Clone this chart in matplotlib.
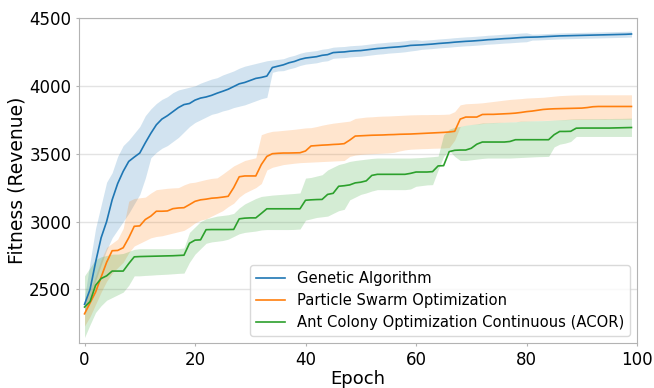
import numpy as np
import matplotlib
matplotlib.use("Agg")
import matplotlib.pyplot as plt

epochs = np.arange(100)

# Genetic Algorithm: mean curve and band edges
ga_mean = [2390, 2500, 2700, 2880, 3000, 3160, 3280, 3370, 3443, 3475,
           3505, 3580, 3650, 3713, 3755, 3780, 3810, 3840, 3862, 3870,
           3895, 3910, 3918, 3930, 3946, 3960, 3975, 3995, 4015, 4025,
           4040, 4055, 4062, 4072, 4135, 4145, 4155, 4170, 4180, 4195,
           4205, 4210, 4215, 4225, 4230, 4245, 4248, 4250, 4255, 4258,
           4260, 4265, 4270, 4275, 4278, 4282, 4285, 4288, 4292, 4298,
           4300, 4302, 4305, 4308, 4312, 4315, 4318, 4322, 4325, 4328,
           4330, 4333, 4336, 4340, 4342, 4345, 4348, 4350, 4353, 4356,
           4358, 4359, 4360, 4362, 4364, 4366, 4368, 4369, 4370, 4371,
           4372, 4373, 4374, 4375, 4376, 4377, 4378, 4379, 4380, 4382]
ga_lo = [2330, 2420, 2560, 2680, 2790, 2880, 2940, 3000, 3060, 3130,
         3200, 3320, 3470, 3510, 3540, 3560, 3590, 3620, 3660, 3700,
         3730, 3750, 3770, 3790, 3800, 3815, 3825, 3840, 3850, 3860,
         3875, 3890, 3905, 3915, 4100, 4110, 4112, 4125, 4135, 4150,
         4160, 4165, 4170, 4180, 4185, 4203, 4206, 4208, 4213, 4216,
         4218, 4223, 4228, 4233, 4236, 4241, 4244, 4247, 4251, 4257,
         4262, 4269, 4272, 4275, 4279, 4282, 4285, 4289, 4292, 4295,
         4297, 4300, 4303, 4307, 4309, 4312, 4315, 4317, 4320, 4323,
         4325, 4337, 4338, 4340, 4342, 4344, 4346, 4347, 4348, 4349,
         4350, 4351, 4352, 4353, 4354, 4355, 4356, 4357, 4358, 4360]
ga_hi = [2440, 2700, 2950, 3120, 3290, 3360, 3480, 3560, 3600, 3650,
         3700, 3780, 3830, 3870, 3900, 3920, 3950, 3970, 3980, 3990,
         4000, 4020, 4035, 4050, 4060, 4080, 4095, 4110, 4130, 4145,
         4155, 4165, 4175, 4185, 4190, 4195, 4200, 4215, 4225, 4240,
         4250, 4255, 4260, 4270, 4275, 4285, 4288, 4290, 4295, 4298,
         4300, 4305, 4310, 4315, 4318, 4322, 4325, 4328, 4332, 4338,
         4340, 4335, 4338, 4341, 4345, 4348, 4351, 4355, 4358, 4361,
         4363, 4366, 4369, 4373, 4375, 4378, 4381, 4383, 4386, 4389,
         4391, 4381, 4382, 4384, 4386, 4388, 4390, 4391, 4392, 4393,
         4394, 4395, 4396, 4397, 4398, 4399, 4400, 4401, 4402, 4404]

# Particle Swarm Optimization
pso_mean = [2320, 2400, 2480, 2590, 2700, 2785, 2787, 2807, 2880, 2965,
            2968, 3015, 3040, 3076, 3076, 3078, 3095, 3100, 3102, 3125,
            3149, 3160, 3165, 3172, 3175, 3180, 3186, 3250, 3330, 3336,
            3336, 3336, 3420, 3480, 3500, 3503, 3505, 3505, 3506, 3507,
            3520, 3557, 3560, 3563, 3565, 3568, 3570, 3574, 3600, 3630,
            3632, 3634, 3636, 3637, 3638, 3640, 3641, 3643, 3644, 3645,
            3647, 3649, 3651, 3653, 3655, 3657, 3660, 3665, 3755, 3770,
            3770, 3770, 3789, 3790, 3790, 3792, 3794, 3796, 3799, 3804,
            3810, 3814, 3820, 3826, 3829, 3831, 3832, 3833, 3834, 3835,
            3836, 3840, 3846, 3848, 3848, 3848, 3848, 3848, 3848, 3848]
pso_lo = [2230, 2300, 2390, 2480, 2560, 2620, 2660, 2700, 2770, 2820,
          2840, 2860, 2880, 2890, 2895, 2905, 2915, 2925, 2935, 2960,
          2990, 3010, 3020, 3040, 3060, 3080, 3110, 3135, 3180, 3210,
          3230, 3250, 3280, 3380, 3400, 3410, 3420, 3425, 3430, 3434,
          3436, 3438, 3440, 3442, 3444, 3446, 3448, 3450, 3480, 3490,
          3495, 3498, 3500, 3502, 3504, 3506, 3510, 3520, 3528, 3533,
          3535, 3537, 3538, 3540, 3541, 3542, 3545, 3600, 3700, 3710,
          3715, 3718, 3722, 3726, 3728, 3730, 3732, 3734, 3736, 3738,
          3740, 3742, 3744, 3745, 3746, 3748, 3749, 3750, 3752, 3752,
          3753, 3753, 3754, 3754, 3754, 3755, 3755, 3755, 3755, 3755]
pso_hi = [2400, 2500, 2600, 2720, 2810, 2840, 2870, 2950, 3150, 3170,
          3175, 3180, 3210, 3235, 3240, 3245, 3248, 3250, 3270, 3285,
          3290, 3300, 3310, 3318, 3322, 3350, 3380, 3410, 3430, 3450,
          3460, 3470, 3640, 3655, 3665, 3668, 3672, 3676, 3680, 3685,
          3690, 3692, 3700, 3710, 3718, 3725, 3730, 3735, 3740, 3760,
          3765, 3770, 3772, 3775, 3777, 3778, 3780, 3782, 3784, 3786,
          3787, 3788, 3788, 3789, 3789, 3790, 3792, 3810, 3860, 3868,
          3870, 3872, 3875, 3880, 3885, 3890, 3895, 3900, 3903, 3906,
          3910, 3912, 3914, 3916, 3920, 3924, 3928, 3930, 3932, 3933,
          3934, 3934, 3934, 3934, 3934, 3934, 3934, 3934, 3934, 3934]

# Ant Colony Optimization Continuous (ACOR)
acor_mean = [2370, 2410, 2530, 2580, 2600, 2635, 2635, 2635, 2690, 2740,
             2742, 2743, 2744, 2745, 2746, 2747, 2748, 2750, 2752, 2840,
             2863, 2865, 2940, 2941, 2941, 2941, 2941, 2942, 3020, 3025,
             3027, 3027, 3060, 3094, 3094, 3094, 3094, 3094, 3094, 3094,
             3157, 3160, 3162, 3163, 3200, 3208, 3260, 3264, 3270, 3285,
             3290, 3300, 3340, 3348, 3348, 3348, 3348, 3348, 3348, 3355,
             3365, 3365, 3365, 3368, 3410, 3412, 3515, 3525, 3527, 3527,
             3540, 3570, 3586, 3586, 3586, 3586, 3586, 3590, 3603, 3603,
             3603, 3603, 3603, 3603, 3603, 3640, 3664, 3664, 3665, 3688,
             3689, 3689, 3689, 3689, 3689, 3689, 3690, 3691, 3692, 3693]
acor_lo = [2145, 2240, 2330, 2380, 2420, 2440, 2460, 2480, 2530, 2600,
           2600, 2603, 2605, 2608, 2610, 2612, 2615, 2618, 2620, 2700,
           2760, 2800, 2840, 2850, 2855, 2860, 2870, 2890, 2910, 2920,
           2925, 2930, 2938, 2941, 2941, 2941, 2941, 2941, 2942, 2945,
           3010, 3020, 3030, 3035, 3040, 3060, 3080, 3090, 3160, 3180,
           3200, 3211, 3225, 3235, 3235, 3235, 3235, 3235, 3235, 3240,
           3260, 3265, 3270, 3272, 3380, 3480, 3525, 3480, 3450, 3450,
           3455, 3460, 3465, 3468, 3468, 3468, 3468, 3468, 3470, 3472,
           3474, 3476, 3478, 3479, 3480, 3550, 3570, 3578, 3590, 3627,
           3627, 3627, 3627, 3627, 3627, 3627, 3627, 3627, 3627, 3627]
acor_hi = [2600, 2660, 2720, 2740, 2750, 2760, 2760, 2765, 2780, 2795,
           2800, 2800, 2800, 2800, 2800, 2800, 2800, 2800, 2805, 2920,
           2960, 3000, 3020, 3030, 3040, 3045, 3050, 3060, 3100, 3130,
           3150, 3170, 3185, 3190, 3195, 3198, 3201, 3204, 3207, 3211,
           3320, 3325, 3335, 3345, 3380, 3400, 3420, 3430, 3443, 3450,
           3455, 3460, 3465, 3468, 3468, 3468, 3468, 3468, 3468, 3468,
           3470, 3472, 3475, 3478, 3482, 3640, 3680, 3695, 3701, 3710,
           3715, 3720, 3726, 3728, 3730, 3731, 3732, 3734, 3735, 3740,
           3741, 3742, 3743, 3744, 3745, 3748, 3750, 3752, 3755, 3756,
           3757, 3757, 3758, 3758, 3759, 3759, 3760, 3760, 3761, 3762]

labels = ["Genetic Algorithm", "Particle Swarm Optimization",
          "Ant Colony Optimization Continuous (ACOR)"]
colors = ["tab:blue", "tab:orange", "tab:green"]

fig = plt.figure(figsize=(6.54, 3.88), dpi=100)
ax = fig.add_axes([0.1208, 0.116, 0.8532, 0.8376])

series = [(ga_mean, ga_lo, ga_hi), (pso_mean, pso_lo, pso_hi),
          (acor_mean, acor_lo, acor_hi)]
for (m, lo, hi), lab, c in zip(series, labels, colors):
    ax.plot(epochs, m, color=c, linewidth=1.2, label=lab)
    ax.fill_between(epochs, lo, hi, color=c, alpha=0.2, linewidth=0)

ax.set_xlim(-1, 100)
ax.set_ylim(2105, 4500)
ax.set_yticks([2500, 3000, 3500, 4000, 4500])
ax.set_xticks([0, 20, 40, 60, 80, 100])
ax.grid(True, axis="y", color="#e3e3e3", linewidth=1.0)
ax.set_axisbelow(True)
for s in ax.spines.values():
    s.set_color("#b3b3b3")
ax.tick_params(colors="#b3b3b3", labelcolor="black", labelsize=12,
               length=2.5, pad=3)
ax.set_xlabel("Epoch", fontsize=13, labelpad=1)
ax.set_ylabel("Fitness (Revenue)", fontsize=13.5, labelpad=2)

leg = ax.legend(loc="lower right", fontsize=10.6, framealpha=0.8,
                edgecolor="#d0d0d0", borderaxespad=0.45)

fig.savefig("out.png", dpi=100)
